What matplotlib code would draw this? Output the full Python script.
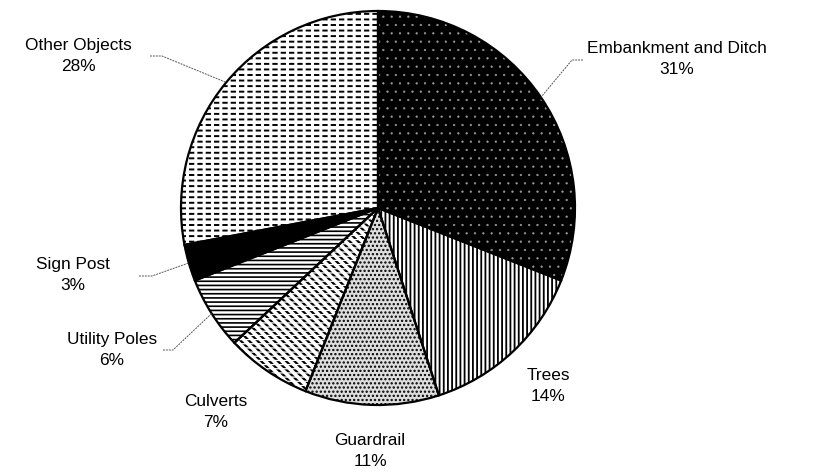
import numpy as np
import matplotlib
matplotlib.use("Agg")
import matplotlib.pyplot as plt

# crash object shares, clockwise from 12 o'clock
labels = ["Embankment and Ditch", "Trees", "Guardrail", "Culverts",
          "Utility Poles", "Sign Post", "Other Objects"]
shares = [31, 14, 11, 7, 6, 3, 28]

face = ["#000000", "white", "#dedede", "white", "white", "#000000", "white"]
hatch_col = ["#9a9a9a", "black", "black", "black", "black", "black", "black"]
hatches = ["..", "||||", "....", "\\\\\\\\", "----", "", "---"]
hatch_lw = [0.4, 1.3, 1.1, 1.6, 1.2, 1.0, 1.4]
breakers = ["", "", "", "----", "", "", "||"]   # white overlay to cut lines into dashes
breaker_lw = [0, 0, 0, 0.9, 0, 0, 2.2]

# label positions (data units, figure is 816 x 474)
lab_x = [677, 548, 370, 216, 112, 73, 78]
lab_y = [415, 88, 23, 62, 124, 199, 418]
# leader lines: (stub end near text, knee) or None
leaders = [((583, 414), (572, 414)), None, None, None,
           ((163, 124), (173, 124)), ((139, 198), (152, 198)),
           ((150, 418), (162, 418))]

plt.rcParams['font.family'] = ['Liberation Sans', 'DejaVu Sans']

fig = plt.figure(figsize=(8.16, 4.74), dpi=100)
ax = fig.add_axes([0, 0, 1, 1])

ctr = (378, 266)
R = 197

def set_hlw(patch, lw):
    if hasattr(patch, 'set_hatch_linewidth'):
        patch.set_hatch_linewidth(lw)
    else:
        patch._hatch_linewidth = lw

wedges, _ = ax.pie(shares, startangle=90, counterclock=False, center=ctr,
                   radius=R, colors=face, frame=True)
for w, h, hc, lw in zip(wedges, hatches, hatch_col, hatch_lw):
    w.set_hatch(h)
    w.set_edgecolor(hc)
    w.set_linewidth(0)
    set_hlw(w, lw)

over, _ = ax.pie(shares, startangle=90, counterclock=False, center=ctr,
                 radius=R, colors=['none'] * len(shares), frame=True)
for w, h, lw in zip(over, breakers, breaker_lw):
    w.set_hatch(h)
    w.set_edgecolor('white')
    w.set_linewidth(0)
    set_hlw(w, lw)

ax.pie(shares, startangle=90, counterclock=False, center=ctr, radius=R,
       frame=True, wedgeprops=dict(fill=False, edgecolor='black', linewidth=1.6))

for w, lab, s, x, y, ld in zip(wedges, labels, shares, lab_x, lab_y, leaders):
    ax.text(x, y, f"{lab}\n{s}%", ha='center', va='center', fontsize=12.4,
            linespacing=1.5)
    if ld is not None:
        mid = np.deg2rad((w.theta1 + w.theta2) / 2)
        ex = ctr[0] + R * np.cos(mid)
        ey = ctr[1] + R * np.sin(mid)
        ax.plot([ld[0][0], ld[1][0], ex], [ld[0][1], ld[1][1], ey],
                color='#555555', lw=0.7, ls=(0, (2, 1)))

ax.set_xlim(0, 816)
ax.set_ylim(0, 474)
ax.set_aspect('equal')
ax.axis('off')
fig.savefig("out.png", dpi=100)
